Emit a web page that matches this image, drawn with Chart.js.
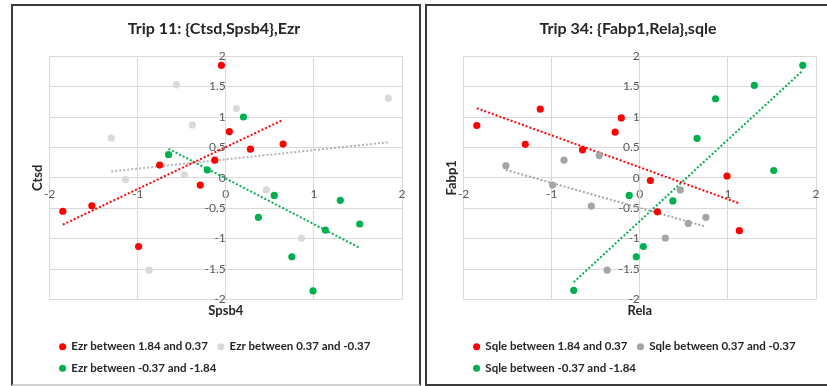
<!DOCTYPE html>
<html>
<head>
<meta charset="utf-8">
<script src="https://cdn.jsdelivr.net/npm/chart.js@4/dist/chart.umd.min.js"></script>
<style>
  body { margin: 0; background: #fff; width: 827px; height: 386px; overflow: hidden; position: relative; }
  .box { position: absolute; top: 4px; width: 406px; height: 378px; border: 2px solid #3a3a3a; background: #fff; }
  #leftBox { left: 11px; border-bottom-color: #d0d0d0; }
  #rightBox { left: 425px; }
</style>
</head>
<body>
<div class="box" id="leftBox"><canvas id="trip11" width="406" height="378"></canvas></div>
<div class="box" id="rightBox"><canvas id="trip34" width="406" height="378"></canvas></div>
<script>
// Trip 11: {Ctsd,Spsb4},Ezr
var t11Labels = ["Ezr between 1.84 and 0.37", "Ezr between 0.37 and -0.37", "Ezr between -0.37 and -1.84"];
var t11RedX = [-0.05, 0.04, 0.28, 0.65, -0.125, -0.75, -0.29, -1.85, -1.52, -0.99];
var t11RedY = [1.85, 0.76, 0.47, 0.555, 0.29, 0.21, -0.12, -0.55, -0.46, -1.13];
var t11GrayX = [-0.56, -1.30, -0.38, 0.12, 1.845, -1.14, -0.47, 0.46, 0.86, -0.87];
var t11GrayY = [1.53, 0.655, 0.87, 1.14, 1.31, -0.03, 0.05, -0.2, -0.99, -1.52];
var t11GreenX = [0.2, -0.65, -0.21, 0.55, 1.30, 0.37, 1.13, 1.52, 0.75, 0.99];
var t11GreenY = [1.0, 0.38, 0.13, -0.29, -0.37, -0.65, -0.86, -0.76, -1.30, -1.86];

// Trip 34: {Fabp1,Rela},sqle
var t34Labels = ["Sqle between 1.84 and 0.37", "Sqle between 0.37 and -0.37", "Sqle between -0.37 and -1.84"];
var t34RedX = [-1.85, -1.13, -1.30, -0.65, -0.28, -0.21, 0.12, 0.99, 0.20, 1.13];
var t34RedY = [0.86, 1.13, 0.55, 0.46, 0.75, 0.985, -0.045, 0.03, -0.56, -0.87];
var t34GrayX = [-1.52, -0.86, -0.46, -0.99, 0.46, -0.55, 0.75, 0.55, 0.29, -0.37];
var t34GrayY = [0.2, 0.29, 0.365, -0.12, -0.2, -0.465, -0.65, -0.75, -0.99, -1.52];
var t34GreenX = [1.85, 1.30, 0.86, 0.65, 1.52, -0.12, 0.375, 0.04, -0.04, -0.75];
var t34GreenY = [1.85, 1.52, 1.30, 0.65, 0.12, -0.29, -0.38, -1.13, -1.30, -1.85];

var xTicks = [-2, -1, 0, 1, 2];
var yTicks = [-2, -1.5, -1, -0.5, 0, 0.5, 1, 1.5, 2];

// least squares line over the x range of the series, like the Excel trendline
function trend(xs, ys) {
  var n = xs.length, mx = 0, my = 0, sxy = 0, sxx = 0;
  xs.forEach((v, i) => { mx += v; my += ys[i]; });
  mx /= n; my /= n;
  xs.forEach((v, i) => { sxy += (v - mx) * (ys[i] - my); sxx += (v - mx) * (v - mx); });
  var b = sxy / sxx, a = my - b * mx;
  var lo = Math.min(...xs), hi = Math.max(...xs);
  return [{ x: lo, y: a + b * lo }, { x: hi, y: a + b * hi }];
}

function points(xs, ys) {
  return xs.map((v, i) => ({ x: v, y: ys[i] }));
}

function makeChart(id, title, xTitle, yTitle, labels, series) {
  var datasets = [];
  series.forEach((s, i) => {
    datasets.push({
      label: labels[i], data: points(s.x, s.y), backgroundColor: s.color, borderColor: s.color,
      pointRadius: 3.6, pointHoverRadius: 3.6, borderWidth: 0, xAxisID: "x", yAxisID: "y",
    });
  });
  series.forEach((s) => {
    datasets.push({
      type: "line", label: "trend", data: trend(s.x, s.y), borderColor: s.trendColor, borderWidth: 2,
      borderDash: [2, 2], pointRadius: 0, fill: false, xAxisID: "x", yAxisID: "y",
    });
  });

  var gridColor = "#d9d9d9";
  var tickFont = { family: "Lato", size: 12 };
  var axisTitleFont = { family: "Lato", size: 13, weight: "bold" };

  return new Chart(document.getElementById(id), {
    type: "scatter",
    data: { datasets: datasets },
    options: {
      responsive: false,
      animation: false,
      layout: { padding: { left: 13, right: 17, top: 0, bottom: 0 } },
      plugins: {
        title: {
          display: true, text: title, color: "#262626",
          font: { family: "Lato", size: 16, weight: "bold" },
          padding: { top: 13, bottom: 18 },
        },
        legend: {
          position: "bottom", align: "start", fullSize: false,
          labels: {
            usePointStyle: true, pointStyle: "circle", boxWidth: 6, boxHeight: 5, padding: 10,
            color: "#262626", font: { family: "Lato", size: 11.5, weight: "bold" },
            filter: (item) => item.text !== "trend",
          },
        },
        tooltip: { enabled: false },
      },
      scales: {
        x: {
          type: "linear", min: -2, max: 2, position: { y: 0 },
          afterBuildTicks: (axis) => { axis.ticks = xTicks.map((v) => ({ value: v })); },
          grid: { color: gridColor, drawTicks: false },
          border: { color: gridColor },
          ticks: { color: "#595959", font: tickFont, padding: 9, maxRotation: 0, callback: (v) => String(v) },
        },
        y: {
          type: "linear", min: -2, max: 2, position: { x: 0 },
          afterBuildTicks: (axis) => { axis.ticks = yTicks.map((v) => ({ value: v })); },
          grid: { color: gridColor, drawTicks: false },
          border: { color: gridColor },
          ticks: { color: "#595959", font: tickFont, padding: 12, callback: (v) => String(v) },
        },
        xt: {
          type: "linear", min: -2, max: 2, position: "bottom",
          grid: { display: false, drawTicks: false }, border: { display: false },
          ticks: { display: false },
          title: { display: true, text: xTitle, color: "#262626", font: axisTitleFont, padding: { top: 4, bottom: 12 } },
        },
        yt: {
          type: "linear", min: -2, max: 2, position: "left",
          grid: { display: false, drawTicks: false }, border: { display: false },
          ticks: { display: false },
          title: { display: true, text: yTitle, color: "#262626", font: axisTitleFont, padding: { top: 4, bottom: 4 } },
        },
      },
    },
  });
}

makeChart("trip11", "Trip 11: {Ctsd,Spsb4},Ezr", "Spsb4", "Ctsd", t11Labels, [
  { x: t11RedX, y: t11RedY, color: "#ff0000", trendColor: "#ff0000" },
  { x: t11GrayX, y: t11GrayY, color: "#d9d9d9", trendColor: "#b4b4b4" },
  { x: t11GreenX, y: t11GreenY, color: "#00b050", trendColor: "#00b050" },
]);

makeChart("trip34", "Trip 34: {Fabp1,Rela},sqle", "Rela", "Fabp1", t34Labels, [
  { x: t34RedX, y: t34RedY, color: "#ff0000", trendColor: "#ff0000" },
  { x: t34GrayX, y: t34GrayY, color: "#a5a5a5", trendColor: "#a5a5a5" },
  { x: t34GreenX, y: t34GreenY, color: "#00b050", trendColor: "#00b050" },
]);
</script>
</body>
</html>
